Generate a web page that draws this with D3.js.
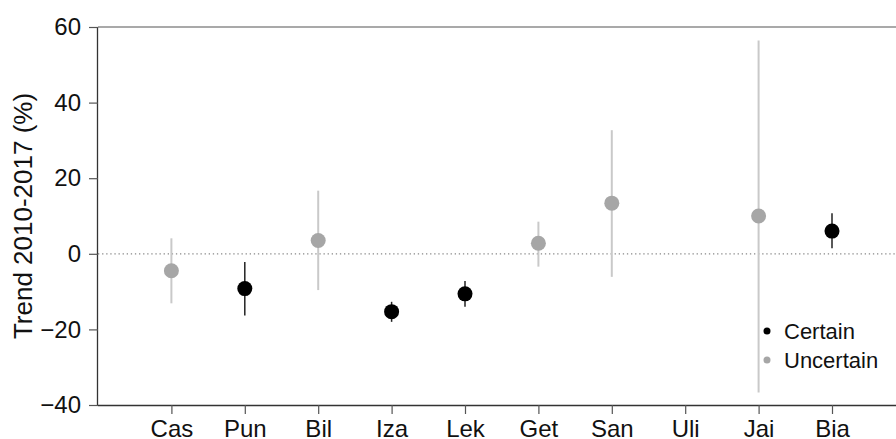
<!DOCTYPE html>
<html>
<head>
<meta charset="utf-8">
<script src="https://cdn.jsdelivr.net/npm/d3@7"></script>
<style>
  body { margin: 0; background: #fff; }
  text { font-family: "Liberation Sans", Arial, sans-serif; fill: #111; }
</style>
</head>
<body>
<div id="chart"></div>
<script>
// data
const sites = ['Cas', 'Pun', 'Bil', 'Iza', 'Lek', 'Get', 'San', 'Uli', 'Jai', 'Bia']
const trend = [-4.5, -9.2, 3.5, -15.3, -10.6, 2.8, 13.4, null, 10.0, 6.0]
const lower = [-13.1, -16.3, -9.6, -18.0, -14.0, -3.4, -6.1, null, -36.7, 1.5]
const upper = [4.1, -2.2, 16.7, -12.7, -7.2, 8.5, 32.7, null, 56.4, 10.7]
const certain = [false, true, false, true, true, false, false, null, false, true]
const yTicks = [-40, -20, 0, 20, 40, 60]
const legendItems = [{ label: 'Certain', certain: true }, { label: 'Uncertain', certain: false }]

const W = 896, H = 439
const padL = 98, padT = 27, padB = 405

const svg = d3.select('#chart').append('svg')
  .attr('width', W)
  .attr('height', H)

const x = d3.scaleLinear().domain([-1, 10]).range([padL, padL + 73.4 * 11])
const y = d3.scaleLinear().domain([-40, 60]).range([padB, padT])

const col = { dot: ['#a6a6a6', '#000'], bar: ['#c9c9c9', '#222'] }

// frame: top line, zero line
svg.append('line')
  .attr('x1', padL).attr('x2', W)
  .attr('y1', y(60)).attr('y2', y(60))
  .attr('stroke', '#555').attr('stroke-width', 1.2)

svg.append('line')
  .attr('x1', padL).attr('x2', W)
  .attr('y1', y(0)).attr('y2', y(0))
  .attr('stroke', '#888').attr('stroke-width', 1.3)
  .attr('stroke-dasharray', '1.3,2.8')

// axes
const yAxis = svg.append('g')
  .attr('transform', `translate(${padL},0)`)
  .call(d3.axisLeft(y).tickValues(yTicks).tickSize(9).tickPadding(8).tickFormat(d3.format('d')))
const xAxis = svg.append('g')
  .attr('transform', `translate(0,${padB})`)
  .call(d3.axisBottom(x).tickValues(d3.range(sites.length)).tickSize(9).tickPadding(6).tickFormat(i => sites[i]))

for (const ax of [yAxis, xAxis]) {
  ax.select('.domain').attr('stroke', '#333').attr('stroke-width', 1.3)
  ax.selectAll('.tick line').attr('stroke', '#555').attr('stroke-width', 1.2)
  ax.selectAll('.tick text').attr('font-size', 24).attr('fill', '#111')
    .attr('font-family', '"Liberation Sans", Arial, sans-serif')
}
xAxis.select('.domain').attr('d', `M${padL},0.5H${W}`)
yAxis.select('.domain').attr('d', `M-0.5,${padB}V${padT}`)

// y title
svg.append('text')
  .attr('transform', `translate(32,216) rotate(-90)`)
  .attr('text-anchor', 'middle')
  .attr('font-size', 26)
  .text('Trend 2010-2017 (%)')

// points with intervals
const rows = sites.map((s, i) => ({ s, i, v: trend[i], lo: lower[i], hi: upper[i], c: certain[i] }))
  .filter(d => d.v !== null)

svg.append('g').selectAll('line')
  .data(rows).join('line')
  .attr('x1', d => x(d.i)).attr('x2', d => x(d.i))
  .attr('y1', d => y(d.lo)).attr('y2', d => y(d.hi))
  .attr('stroke', d => col.bar[+d.c])
  .attr('stroke-width', d => d.c ? 1.5 : 2)

svg.append('g').selectAll('circle')
  .data(rows).join('circle')
  .attr('cx', d => x(d.i)).attr('cy', d => y(d.v))
  .attr('r', 7.5)
  .attr('fill', d => col.dot[+d.c])

// legend
const lg = svg.append('g').attr('transform', 'translate(767,331)')
legendItems.forEach((it, k) => {
  lg.append('circle').attr('cx', 0).attr('cy', k * 29).attr('r', 3.5)
    .attr('fill', col.dot[+it.certain])
  lg.append('text').attr('x', 17).attr('y', k * 29).attr('dy', '0.35em')
    .attr('font-size', 22).text(it.label)
})
</script>
</body>
</html>
